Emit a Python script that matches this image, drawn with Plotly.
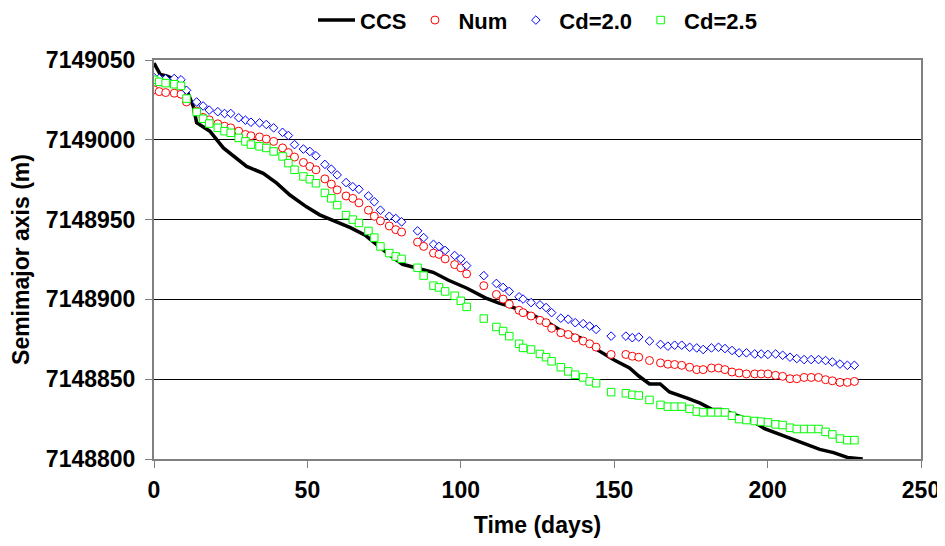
import plotly.graph_objects as go

# CCS solid line
ccs_days = [0, 2, 4.1, 8.5, 11, 12.8, 13.9, 18.2, 22.6, 30.2, 35.6, 40, 44.3, 49.7, 54, 58, 64, 69, 76,
            81, 91, 96, 102, 108, 112, 117, 122.5, 128, 133, 139, 144, 150, 155, 158, 161.5, 165, 168,
            174, 178, 182, 185, 189, 195, 199, 206, 211.6, 217, 221.5, 226, 231]
ccs_vals = [7149048, 7149041, 7149040, 7149036.3, 7149029.6, 7149021, 7149010.7, 7149005.4, 7148994.9,
            7148983.3, 7148979, 7148972.8, 7148965.4, 7148958, 7148953, 7148950, 7148945, 7148940,
            7148929, 7148922, 7148917, 7148912, 7148907, 7148901, 7148898, 7148895, 7148891, 7148886,
            7148880, 7148876, 7148869, 7148862, 7148857, 7148852, 7148847, 7148847, 7148842, 7148838,
            7148835, 7148831, 7148831, 7148828, 7148824, 7148819, 7148814, 7148810, 7148806, 7148804,
            7148801, 7148800]

# marker series share sample days
days = [0, 1.7, 3.8, 6.6, 8.8, 10.6, 13.9, 16, 18, 20.8,
        23, 25, 27.6, 29.8, 31.6, 34.4, 36.6, 39, 41.9, 43.8,
        45.8, 48.7, 50.8, 52.8, 55.7, 57.8, 59.7, 62.6, 64.8, 66.8,
        69.9, 71.8, 73.8, 76.7, 78.8, 80.7, 85.9, 87.9, 91.1, 92.9,
        94.9, 98, 100, 101.9, 107.5, 111.6, 113.8, 115.8, 119, 120.3,
        122.9, 125.8, 127.8, 129.6, 132.6, 135, 137.3, 139.9, 142, 144.1,
        149, 153.8, 155.9, 158, 161.5, 165.1, 167.5, 169.7, 172, 174.6,
        176.9, 179, 181.7, 184, 186.1, 188.4, 190.7, 193.1, 195.8, 197.9,
        200.1, 202.6, 204.9, 207.3, 209.5, 211.9, 214.2, 216.6, 218.9, 221.1,
        223.6, 226, 228.3]

num_vals = [7149031.3, 7149030.2, 7149029.6, 7149029.2, 7149028.5, 7149023.7, 7149018, 7149014, 7149012.5, 7149010,
            7149008.5, 7149007.5, 7149005.4, 7149003.3, 7149002.5, 7149001.8, 7149000.5, 7148999, 7148994.9, 7148992,
            7148989.2, 7148985.8, 7148983.3, 7148981.2, 7148975.5, 7148972.2, 7148968.6, 7148964.8, 7148963.3, 7148960.5,
            7148955.9, 7148952.1, 7148949.2, 7148946, 7148943.7, 7148942.2, 7148935.9, 7148933.2, 7148929, 7148928.2,
            7148925.4, 7148921.8, 7148919.8, 7148916, 7148908.6, 7148903.1, 7148900.2, 7148897, 7148893.2, 7148891.7,
            7148889.6, 7148886.9, 7148885.4, 7148881.9, 7148879.1, 7148878, 7148875.9, 7148873.9, 7148872.2, 7148870.1,
            7148865.5, 7148865.5, 7148864.4, 7148863.8, 7148861.7, 7148860.2, 7148859.4, 7148859.2, 7148858.7, 7148857.5,
            7148856, 7148856, 7148857, 7148857, 7148856, 7148854.5, 7148853.9, 7148853.3, 7148853.3, 7148853.3,
            7148853.3, 7148852.4, 7148851.8, 7148850.3, 7148850.3, 7148851.1, 7148851.1, 7148851.1, 7148849.7, 7148849,
            7148848, 7148848, 7148848.6]

cd20_vals = [7149039, 7149038.5, 7149038.2, 7149038.4, 7149037.6, 7149031, 7149023.7, 7149021.2, 7149018.6, 7149017.6,
             7149016.5, 7149016.5, 7149013.8, 7149012.3, 7149011, 7149010.6, 7149009.6, 7149007.5, 7149004.7, 7149002.7,
             7148997, 7148994.2, 7148992.7, 7148990, 7148984.6, 7148981.6, 7148978, 7148973.2, 7148970.6, 7148969,
             7148964.8, 7148961.2, 7148955.9, 7148952.1, 7148950.7, 7148948.6, 7148942.9, 7148938.7, 7148934.5, 7148933.2,
             7148930.7, 7148927.5, 7148925.4, 7148921.2, 7148914.9, 7148910, 7148907.5, 7148905, 7148901.6, 7148900.2,
             7148898, 7148896.6, 7148894.9, 7148891.7, 7148888.2, 7148887.6, 7148885.4, 7148884.8, 7148883.3, 7148881.2,
             7148877, 7148877, 7148876, 7148876.4, 7148873.9, 7148871.8, 7148870.7, 7148871.3, 7148871.3, 7148870,
             7148869.6, 7148868.6, 7148869.6, 7148870, 7148869.2, 7148868, 7148866.5, 7148866.5, 7148865.8, 7148865.8,
             7148865.5, 7148865.8, 7148865, 7148863.8, 7148862.9, 7148862.3, 7148862.3, 7148862.3, 7148861.7, 7148860.8,
             7148859.5, 7148858.7, 7148858.7]

cd25_vals = [7149037.6, 7149036.3, 7149035.5, 7149034.8, 7149033.8, 7149025.8, 7149017.4, 7149013.2, 7149010.2, 7149007.5,
             7149005.4, 7149004.4, 7149001.2, 7148999, 7148997, 7148995.9, 7148994.9, 7148992.7, 7148989.6, 7148985.4,
             7148981.2, 7148977, 7148975.3, 7148972.8, 7148966.7, 7148963.3, 7148959.1, 7148952.8, 7148950, 7148947.9,
             7148942.9, 7148938.7, 7148933.2, 7148929, 7148926.9, 7148925.4, 7148919.8, 7148914.9, 7148908.6, 7148907.5,
             7148905, 7148902.3, 7148899.1, 7148895.3, 7148888, 7148882.7, 7148880.2, 7148877, 7148872.2, 7148869.6,
             7148868.6, 7148865.8, 7148863.8, 7148861.2, 7148857.5, 7148854.9, 7148852.8, 7148851.1, 7148848.6, 7148847.5,
             7148841.9, 7148841.2, 7148840.2, 7148839.8, 7148837, 7148833.9, 7148832.8, 7148832.8, 7148832.8, 7148831.4,
             7148829.7, 7148829.2, 7148829.2, 7148829.2, 7148829.2, 7148827.1, 7148825, 7148824.4, 7148823.8, 7148823.4,
             7148822.9, 7148821.7, 7148821.3, 7148819.6, 7148818.8, 7148818.8, 7148818.8, 7148818.8, 7148817, 7148815.4,
             7148812.8, 7148811.8, 7148811.8]

assert len(days) == len(num_vals) == len(cd20_vals) == len(cd25_vals)

FONT = "Liberation Sans, Arial, sans-serif"

fig = go.Figure()
fig.add_trace(go.Scatter(x=ccs_days, y=ccs_vals, mode="lines", name="CCS",
                         line=dict(color="black", width=3.5)))
fig.add_trace(go.Scatter(x=days, y=num_vals, mode="markers", name="Num",
                         marker=dict(symbol="circle", size=8, color="white",
                                     line=dict(color="#FF0000", width=1))))
fig.add_trace(go.Scatter(x=days, y=cd20_vals, mode="markers", name="Cd=2.0",
                         marker=dict(symbol="diamond", size=6.6, color="white",
                                     line=dict(color="#0000FF", width=1))))
fig.add_trace(go.Scatter(x=days, y=cd25_vals, mode="markers", name="Cd=2.5",
                         marker=dict(symbol="square", size=7.5, color="white",
                                     line=dict(color="#00FF00", width=1))))

# page body has an 8px margin; figure sized so plot area lands where the reference has it
fig.update_layout(
    width=937, height=538,
    margin=dict(l=146, r=24, t=52, b=87, autoexpand=False),
    paper_bgcolor="white", plot_bgcolor="white",
    font=dict(family=FONT, size=23, color="black", weight="bold"),
    showlegend=True,
    legend=dict(orientation="h", x=0.5, xanchor="center", y=1.0996, yanchor="middle",
                font=dict(family=FONT, size=22, color="black", weight="bold"),
                bgcolor="rgba(0,0,0,0)", itemwidth=37, tracegroupgap=0),
)
fig.update_xaxes(range=[0, 250], tick0=0, dtick=50, showgrid=False, zeroline=False, automargin=False,
                 showline=True, linecolor="#808080", linewidth=2, mirror=True,
                 ticks="outside", ticklen=7, tickcolor="#808080", tickwidth=1, ticklabelstandoff=2,
                 tickfont=dict(family=FONT, size=23, weight="bold"),
                 title=dict(text="Time (days)", font=dict(family=FONT, size=23, weight="bold")))
fig.update_yaxes(range=[7148800, 7149050], tick0=7148800, dtick=50, tickformat="d", automargin=False,
                 showgrid=True, gridcolor="black", gridwidth=1, zeroline=False,
                 showline=True, linecolor="#808080", linewidth=2, mirror=True,
                 ticks="outside", ticklen=7, tickcolor="#808080", tickwidth=1, ticklabelstandoff=5,
                 tickfont=dict(family=FONT, size=23, weight="bold"),
                 title=dict(text="Semimajor axis (m)", font=dict(family=FONT, size=23, weight="bold")))

fig.write_html("out.html")
